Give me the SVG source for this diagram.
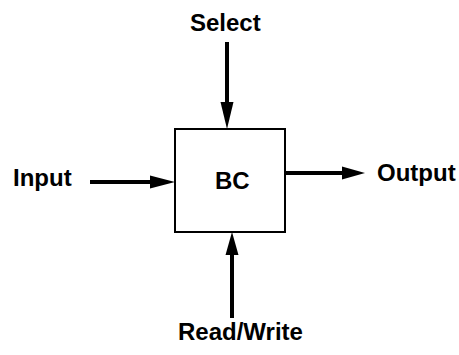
<svg xmlns="http://www.w3.org/2000/svg" width="459" height="355" viewBox="0 0 459 355">
<style>
text{font-family:"Liberation Sans",Arial,sans-serif;font-weight:bold;font-size:24px;fill:#000}
.ln{stroke:#000;stroke-width:4;fill:none}
.hd{fill:#000;stroke:none}
</style>
<rect width="459" height="355" fill="#fff"/>
<g id="connectors">
<line class="ln" x1="227" y1="42" x2="227" y2="104"/>
<polygon class="hd" points="220.5,102 233.5,102 227,129"/>
<line class="ln" x1="90" y1="182" x2="152" y2="182"/>
<polygon class="hd" points="150,175.5 150,188.5 175,182"/>
<line class="ln" x1="285" y1="173" x2="344" y2="173"/>
<polygon class="hd" points="342,166.5 342,179.5 365,173"/>
<line class="ln" x1="232" y1="318" x2="232" y2="253"/>
<polygon class="hd" points="225.5,255 238.5,255 232,232"/>
</g>
<g id="BC">
<rect x="175" y="129" width="110" height="103" fill="#fff" stroke="#000" stroke-width="2"/>
<text x="215" y="189">BC</text>
</g>
<g id="Select"><text x="190" y="31">Select</text></g>
<g id="Input"><text x="13" y="186">Input</text></g>
<g id="Output"><text x="377" y="181">Output</text></g>
<g id="ReadWrite"><text x="178" y="340">Read/Write</text></g>
</svg>
